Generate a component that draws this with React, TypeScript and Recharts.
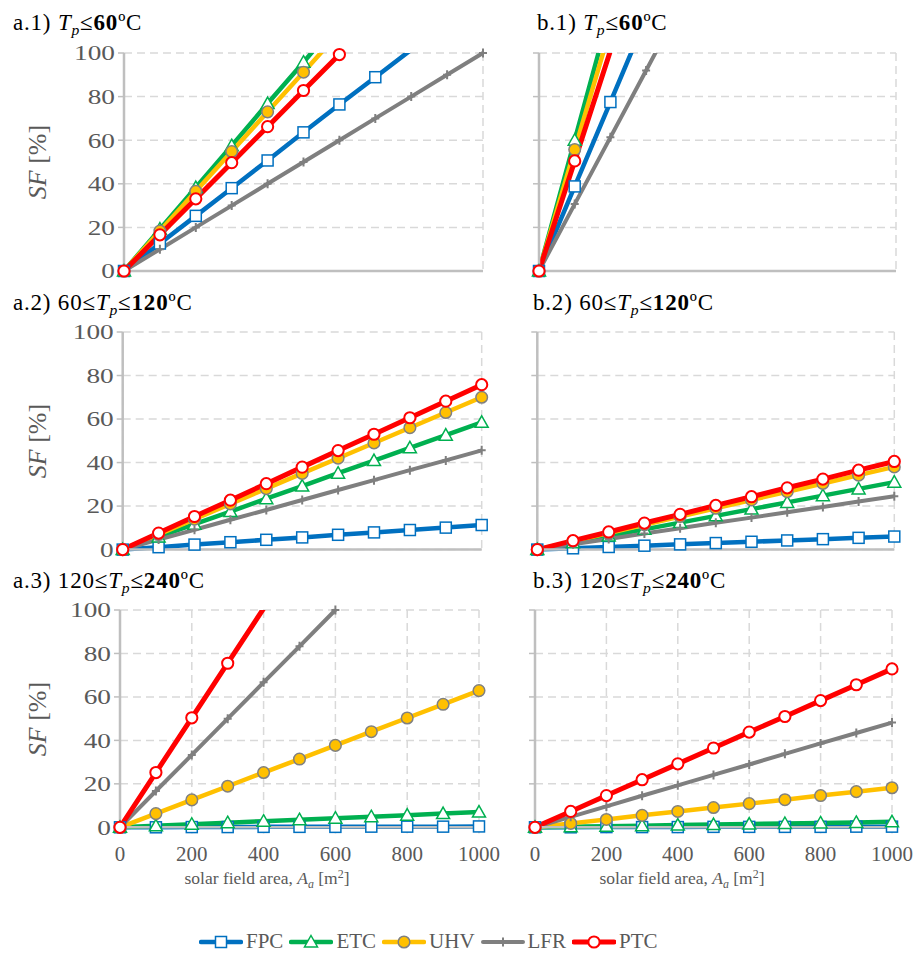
import React from 'react';
import { LineChart, Line, XAxis, YAxis, CartesianGrid } from 'recharts';

// solar field area [m2]
const AREA = [0, 100, 200, 300, 400, 500, 600, 700, 800, 900, 1000];
const X_TICKS = [0, 200, 400, 600, 800, 1000];
const Y_TICKS = [0, 20, 40, 60, 80, 100];

const SERIES = ['FPC', 'ETC', 'UHV', 'LFR', 'PTC'];

// a.1) Tp <= 60 C
const a1FPC = [0, 12.6, 25.3, 38, 50.7, 63.6, 76.4, 88.9, 101.5];
const a1ETC = [0, 19.2, 38.3, 57.5, 76.8, 95.8, 115];
const a1UHV = [0, 18.3, 36.6, 54.8, 73, 91.2, 109.5];
const a1LFR = [0, 10, 20, 30, 40, 50, 60, 70, 80, 90, 100];
const a1PTC = [0, 16.6, 33.1, 49.7, 66.2, 82.8, 99.3, 115.9];

// b.1) Tp <= 60 C
const b1FPC = [0, 38.8, 77.5, 116.3];
const b1ETC = [0, 60, 120];
const b1UHV = [0, 55.7, 111.4];
const b1LFR = [0, 30.7, 61.3, 92, 122.7];
const b1PTC = [0, 50.5, 101];

// a.2) 60 <= Tp <= 120 C
const a2FPC = [0, 1.1, 2.3, 3.4, 4.5, 5.6, 6.8, 7.9, 9.0, 10.1, 11.3];
const a2ETC = [0, 5.8, 11.7, 17.5, 23.4, 29.2, 35.1, 40.9, 46.8, 52.6, 58.5];
const a2UHV = [0, 7.0, 14.0, 21.0, 28.0, 35.0, 42.0, 49.0, 56.0, 63.0, 70.0];
const a2LFR = [0, 4.6, 9.1, 13.7, 18.2, 22.8, 27.4, 31.9, 36.5, 41.0, 45.6];
const a2PTC = [0, 7.6, 15.2, 22.7, 30.3, 37.9, 45.5, 53.0, 60.6, 68.2, 75.8];

// b.2) 60 <= Tp <= 120 C
const b2FPC = [0, 0.6, 1.2, 1.8, 2.4, 3.0, 3.6, 4.2, 4.8, 5.4, 6.0];
const b2ETC = [0, 3.1, 6.2, 9.3, 12.4, 15.5, 18.6, 21.7, 24.8, 27.9, 31.0];
const b2UHV = [0, 3.8, 7.6, 11.4, 15.2, 19.0, 22.8, 26.6, 30.4, 34.2, 38.0];
const b2LFR = [0, 2.5, 4.9, 7.4, 9.8, 12.3, 14.7, 17.2, 19.6, 22.1, 24.5];
const b2PTC = [0, 4.1, 8.1, 12.2, 16.2, 20.3, 24.3, 28.4, 32.4, 36.5, 40.5];

// a.3) 120 <= Tp <= 240 C
const a3FPC = [0, 0, 0.1, 0.1, 0.2, 0.2, 0.2, 0.3, 0.3, 0.3, 0.4];
const a3ETC = [0, 0.7, 1.4, 2.1, 2.8, 3.5, 4.2, 4.9, 5.6, 6.3, 7.0];
const a3UHV = [0, 6.3, 12.6, 18.9, 25.2, 31.4, 37.7, 44.0, 50.3, 56.6, 62.9];
const a3LFR = [0, 16.7, 33.3, 50.0, 66.7, 83.3, 100];
const a3PTC = [0, 25.2, 50.4, 75.5, 100.7];

// b.3) 120 <= Tp <= 240 C
const b3FPC = [0, 0, 0.1, 0.1, 0.1, 0.2, 0.2, 0.2, 0.2, 0.3, 0.3];
const b3ETC = [0, 0.25, 0.5, 0.75, 1.0, 1.25, 1.5, 1.75, 2.0, 2.25, 2.5];
const b3UHV = [0, 1.8, 3.6, 5.5, 7.3, 9.1, 10.9, 12.7, 14.6, 16.4, 18.2];
const b3LFR = [0, 4.8, 9.6, 14.5, 19.3, 24.1, 28.9, 33.8, 38.6, 43.4, 48.2];
const b3PTC = [0, 7.3, 14.6, 21.9, 29.2, 36.5, 43.8, 51.0, 58.3, 65.6, 72.9];

const COLORS: Record<string, string> = {
  FPC: '#0070C0',
  ETC: '#00B050',
  UHV: '#FFC000',
  LFR: '#7F7F7F',
  PTC: '#FF0000',
};
const WIDTHS: Record<string, number> = { FPC: 4.5, ETC: 4.5, UHV: 4.5, LFR: 4, PTC: 5 };

const FONT = 'Liberation Serif, Times New Roman, serif';
const GRAY_TEXT = '#595959';
const AXIS = '#BFBFBF';

function drawMarker(name: string, cx: number, cy: number, key?: any) {
  const c = COLORS[name];
  switch (name) {
    case 'FPC':
      return <rect key={key} x={cx - 5.5} y={cy - 5.5} width={11} height={11} fill="#fff" stroke={c} strokeWidth={1.5} />;
    case 'ETC':
      return (
        <polygon
          key={key}
          points={`${cx},${cy - 6.5} ${cx + 6.5},${cy + 5} ${cx - 6.5},${cy + 5}`}
          fill="#fff"
          stroke={c}
          strokeWidth={1.5}
        />
      );
    case 'UHV':
      return <circle key={key} cx={cx} cy={cy} r={5.8} fill={c} stroke="#808080" strokeWidth={1.5} />;
    case 'LFR':
      return <path key={key} d={`M${cx - 4},${cy}H${cx + 4}M${cx},${cy - 4.5}V${cy + 4.5}`} stroke={c} strokeWidth={2} fill="none" />;
    default:
      return <circle key={key} cx={cx} cy={cy} r={5.6} fill="#fff" stroke={c} strokeWidth={2} />;
  }
}

const markerFor = (name: string) => (p: any) => {
  if (p.cx == null || p.cy == null || p.value == null) return <g key={p.index} />;
  return drawMarker(name, p.cx, p.cy, p.index);
};

// y tick labels in the source figure are drawn horizontally wider
const YTick = (p: any) => {
  const { x, y, payload, hideText } = p;
  if (hideText) return <g />;
  return (
    <text
      x={x}
      y={y}
      textAnchor="end"
      dominantBaseline="central"
      fill={GRAY_TEXT}
      fontSize={21}
      fontFamily={FONT}
      transform={`translate(${x} ${y}) scale(1.3 1) translate(${-x} ${-y})`}
    >
      {payload.value}
    </text>
  );
};

type PanelProps = {
  data: Record<string, number[]>;
  plotLeft: number;
  plotTop: number;
  plotH: number;
  right?: boolean;
  bottom?: boolean;
};

const Panel = ({ data, plotLeft, plotTop, plotH, right, bottom }: PanelProps) => {
  const plotW = right ? 357 : 359;
  const chartLeft = right ? 490 : 0;
  const yW = plotLeft - chartLeft;
  const topPad = 16;
  const xH = bottom ? 70 : 16;
  const rightPad = 30;
  const width = yW + plotW + rightPad;
  const height = topPad + plotH + xH;

  const rows = AREA.map((x, i) => {
    const r: any = { x };
    SERIES.forEach((s) => {
      const v = data[s][i];
      r[s] = v ?? null;
      // markers outside the plot area are not shown
      r[s + '_m'] = v != null && v <= 100 ? v : null;
    });
    return r;
  });

  return (
    <div style={{ position: 'absolute', left: chartLeft, top: plotTop - topPad, fontFamily: FONT }}>
      <LineChart width={width} height={height} data={rows} margin={{ top: topPad, right: rightPad, left: 0, bottom: 0 }}>
        <CartesianGrid yAxisId="v" stroke="#D9D9D9" strokeWidth={1.5} strokeDasharray="8 5" />
        <XAxis
          dataKey="x"
          type="number"
          domain={[0, 1000]}
          ticks={X_TICKS}
          interval={0}
          height={xH}
          tickSize={6}
          tickMargin={13}
          tick={bottom ? { fill: GRAY_TEXT, fontSize: 21, fontFamily: FONT } : false}
          axisLine={{ stroke: AXIS, strokeWidth: 2.5 }}
          tickLine={{ stroke: AXIS, strokeWidth: 1.5 }}
        />
        <XAxis
          xAxisId="top"
          orientation="top"
          type="number"
          domain={[0, 1000]}
          height={0}
          tick={false}
          tickLine={false}
          axisLine={{ stroke: AXIS, strokeWidth: 2 }}
        />
        <YAxis
          yAxisId="v"
          type="number"
          domain={[0, 100]}
          ticks={Y_TICKS}
          interval={0}
          width={yW}
          tickSize={6}
          tickMargin={3}
          tick={<YTick hideText={right} />}
          axisLine={{ stroke: AXIS, strokeWidth: 2.5 }}
          tickLine={{ stroke: AXIS, strokeWidth: 1.5 }}
        />
        <YAxis yAxisId="c" hide width={0} type="number" domain={[0, 100]} allowDataOverflow />
        <YAxis
          yAxisId="r"
          orientation="right"
          type="number"
          domain={[0, 100]}
          width={0}
          tick={false}
          tickLine={false}
          axisLine={{ stroke: AXIS, strokeWidth: 2 }}
        />
        {SERIES.map((s) => {
          const over = data[s].some((v) => v > 100);
          return [
            <Line
              key={s + '-line'}
              yAxisId={over ? 'c' : 'v'}
              dataKey={s}
              stroke={COLORS[s]}
              strokeWidth={WIDTHS[s]}
              dot={false}
              activeDot={false}
              isAnimationActive={false}
            />,
            <Line
              key={s + '-marks'}
              yAxisId="v"
              dataKey={s + '_m'}
              stroke="none"
              dot={markerFor(s)}
              activeDot={false}
              isAnimationActive={false}
            />,
          ];
        })}
      </LineChart>
    </div>
  );
};

const Tp = (
  <>
    <i>T</i>
    <sub style={{ fontStyle: 'italic', fontSize: '0.68em', verticalAlign: '-0.3em', lineHeight: 0 }}>p</sub>
  </>
);

const Title = ({ left, top, children }: { left: number; top: number; children: React.ReactNode }) => (
  <div
    style={{
      position: 'absolute',
      left,
      top,
      fontFamily: FONT,
      fontSize: 23,
      lineHeight: 1,
      letterSpacing: 0.8,
      whiteSpace: 'nowrap',
      color: '#000',
    }}
  >
    {children}
  </div>
);

const YLabel = ({ cy }: { cy: number }) => (
  <div
    style={{
      position: 'absolute',
      left: 38,
      top: cy,
      transform: 'translate(-50%, -50%) rotate(-90deg)',
      fontFamily: FONT,
      fontSize: 26,
      lineHeight: 1,
      color: GRAY_TEXT,
      whiteSpace: 'nowrap',
    }}
  >
    <i>SF</i> [%]
  </div>
);

const XLabel = ({ cx }: { cx: number }) => (
  <div
    style={{
      position: 'absolute',
      left: cx,
      top: 870,
      transform: 'translateX(-50%)',
      fontFamily: FONT,
      fontSize: 17.5,
      lineHeight: 1,
      color: GRAY_TEXT,
      whiteSpace: 'nowrap',
    }}
  >
    solar field area, <i>A</i>
    <sub style={{ fontStyle: 'italic', fontSize: '0.68em', verticalAlign: '-0.3em', lineHeight: 0 }}>a</sub> [m
    <sup style={{ fontSize: '0.68em', verticalAlign: '0.5em', lineHeight: 0 }}>2</sup>]
  </div>
);

const LegendBar = () => (
  <div
    style={{
      position: 'absolute',
      left: 199,
      top: 929,
      display: 'flex',
      alignItems: 'center',
      fontFamily: FONT,
      fontSize: 21,
      color: GRAY_TEXT,
      whiteSpace: 'nowrap',
    }}
  >
    {SERIES.map((s) => (
      <div key={s} style={{ display: 'flex', alignItems: 'center', marginRight: 6 }}>
        <svg width={44} height={24} style={{ display: 'block' }}>
          <line x1={2} y1={12} x2={42} y2={12} stroke={COLORS[s]} strokeWidth={WIDTHS[s]} strokeLinecap="round" />
          {drawMarker(s, 22, 12)}
        </svg>
        <span style={{ marginLeft: 3, lineHeight: 'normal' }}>{s}</span>
      </div>
    ))}
  </div>
);

const pack = (FPC: number[], ETC: number[], UHV: number[], LFR: number[], PTC: number[]) => ({ FPC, ETC, UHV, LFR, PTC });

export default function App() {
  return (
    <div style={{ position: 'absolute', left: 0, top: 0, width: 917, height: 953, background: '#fff', overflow: 'hidden' }}>
      <Title left={13} top={11}>
        a.1) {Tp}≤<b>60</b>ºC
      </Title>
      <Title left={537} top={11}>
        b.1) {Tp}≤<b>60</b>ºC
      </Title>
      <Title left={13} top={290.5}>
        a.2) 60≤{Tp}≤<b>120</b>ºC
      </Title>
      <Title left={533} top={290.5}>
        b.2) 60≤{Tp}≤<b>120</b>ºC
      </Title>
      <Title left={13} top={569}>
        a.3) 120≤{Tp}≤<b>240</b>ºC
      </Title>
      <Title left={533} top={569}>
        b.3) 120≤{Tp}≤<b>240</b>ºC
      </Title>

      <Panel data={pack(a1FPC, a1ETC, a1UHV, a1LFR, a1PTC)} plotLeft={124} plotTop={53} plotH={218} />
      <Panel data={pack(b1FPC, b1ETC, b1UHV, b1LFR, b1PTC)} plotLeft={539} plotTop={53} plotH={218} right />
      <Panel data={pack(a2FPC, a2ETC, a2UHV, a2LFR, a2PTC)} plotLeft={122.7} plotTop={331.7} plotH={217.6} />
      <Panel data={pack(b2FPC, b2ETC, b2UHV, b2LFR, b2PTC)} plotLeft={537.3} plotTop={331.7} plotH={217.6} right />
      <Panel data={pack(a3FPC, a3ETC, a3UHV, a3LFR, a3PTC)} plotLeft={120} plotTop={610} plotH={217.3} bottom />
      <Panel data={pack(b3FPC, b3ETC, b3UHV, b3LFR, b3PTC)} plotLeft={535} plotTop={610} plotH={217.3} right bottom />

      <YLabel cy={162} />
      <YLabel cy={440.5} />
      <YLabel cy={718.5} />

      <XLabel cx={267} />
      <XLabel cx={682} />

      <LegendBar />
    </div>
  );
}
